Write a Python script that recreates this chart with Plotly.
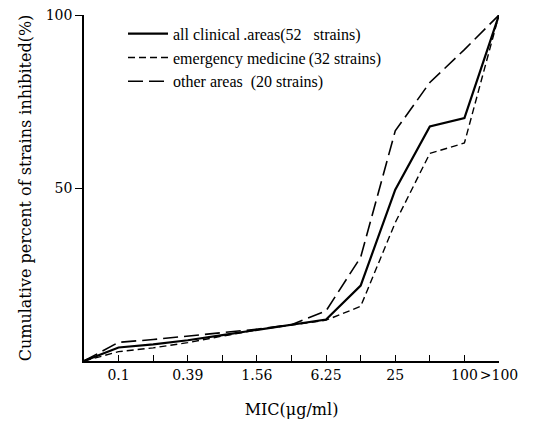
import plotly.graph_objects as go

categories = ["0.05", "0.1", "0.2", "0.39", "0.78", "1.56", "3.13", "6.25", "12.5", "25", "50", "100", ">100"]
tick_labels = ["", "0.1", "", "0.39", "", "1.56", "", "6.25", "", "25", "", "100", ">100"]
all_areas = [0, 3.9, 4.8, 6.0, 7.5, 9.0, 10.4, 12.0, 21.8, 49.5, 67.8, 70.2, 100]
emergency = [0, 2.7, 3.8, 5.3, 7.2, 9.0, 10.4, 11.8, 15.8, 40.0, 60.0, 63.0, 100]
other_areas = [0, 5.4, 6.2, 7.2, 8.2, 9.2, 10.5, 14.5, 30.0, 66.5, 80.5, 90.0, 100]
y_ticks = [50, 100]

SERIF = "Liberation Serif, DejaVu Serif, serif"
WIDE = "DejaVu Serif, Liberation Serif, serif"

fig = go.Figure()
fig.add_trace(go.Scatter(x=categories, y=all_areas, mode="lines",
                         name="all clinical\u2009.areas(52\u2002 strains)",
                         line=dict(color="black", width=2.2, dash="solid")))
fig.add_trace(go.Scatter(x=categories, y=emergency, mode="lines",
                         name="emergency medicine\u2009(32 strains)",
                         line=dict(color="black", width=1.4, dash="7px,4px")))
fig.add_trace(go.Scatter(x=categories, y=other_areas, mode="lines",
                         name="other areas\u2002(20 strains)",
                         line=dict(color="black", width=1.6, dash="15px,6px")))

fig.update_layout(
    width=536, height=428,
    margin=dict(l=84, r=37, t=15, b=67, autoexpand=False),
    paper_bgcolor="white", plot_bgcolor="white",
    font=dict(family=SERIF, color="black", size=14),
    showlegend=True,
    legend=dict(x=0.094, y=0.995, xanchor="left", yanchor="top",
                bgcolor="rgba(0,0,0,0)", font=dict(size=16, family=SERIF),
                itemwidth=40),
    xaxis=dict(type="category", categoryorder="array", categoryarray=categories,
               range=[0, 12], tickmode="array", tickvals=categories, ticktext=tick_labels,
               tickangle=0,
               ticks="inside", ticklen=6, tickcolor="black", tickwidth=1,
               showline=True, linecolor="black", linewidth=1.5, showgrid=False, zeroline=False,
               automargin=False,
               tickfont=dict(size=14, family=WIDE),
               title=dict(text="MIC(\u03bcg/ml)", font=dict(size=16, family=WIDE), standoff=22)),
    yaxis=dict(range=[0, 100], tickmode="array", tickvals=y_ticks,
               ticks="outside", ticklen=7, tickcolor="black", tickwidth=1,
               showline=True, linecolor="black", linewidth=1.5, showgrid=False, zeroline=False,
               automargin=False,
               tickfont=dict(size=14, family=WIDE),
               title=dict(text="Cumulative percent of strains inhibited(%)", font=dict(size=16, family=WIDE), standoff=10)),
)

fig.write_html("out.html", config={"displayModeBar": False},
               post_script="document.body.style.margin='0';document.body.style.overflow='hidden';")
